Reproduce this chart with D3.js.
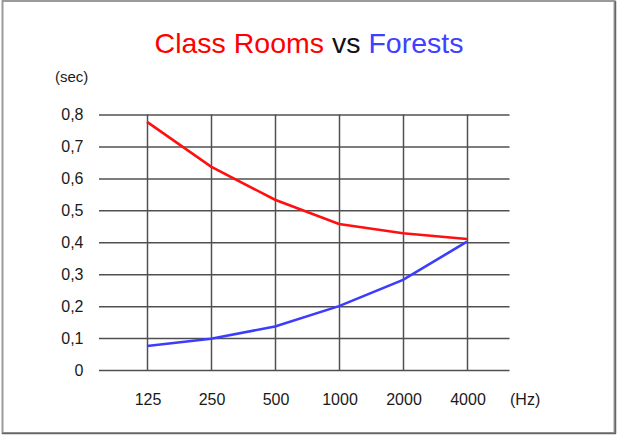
<!DOCTYPE html>
<html>
<head>
<meta charset="utf-8">
<script src="https://cdn.jsdelivr.net/npm/d3@7"></script>
<style>
html,body{margin:0;padding:0;background:#fff;}
svg{display:block;}
text{font-family:"Liberation Sans",Arial,sans-serif;}
</style>
</head>
<body>
<svg id="chart" width="617" height="435"></svg>
<script>
const categories = ["125","250","500","1000","2000","4000"];
const classRooms = [0.777,0.637,0.533,0.457,0.428,0.41];
const forests = [0.075,0.098,0.136,0.2,0.282,0.402];
const yTicks = [0,0.1,0.2,0.3,0.4,0.5,0.6,0.7,0.8];

const svg = d3.select("#chart");

// frame
svg.append("rect").attr("x",2.5).attr("y",1).attr("width",612).attr("height",432)
  .attr("fill","#fff").attr("stroke","#9a9a9a").attr("stroke-width",2);
svg.append("line").attr("x1",2).attr("x2",616).attr("y1",433.5).attr("y2",433.5).attr("stroke","#666").attr("stroke-width",1.5);
svg.append("line").attr("x1",615.5).attr("x2",615.5).attr("y1",1).attr("y2",434).attr("stroke","#666").attr("stroke-width",1.5);

const x = d3.scalePoint().domain(categories).range([147,467]);
const y = d3.scaleLinear().domain([0,0.8]).range([370,114.5]);
const gridLeft = 99, gridRight = 509.5;

// horizontal grid
const yAxis = d3.axisLeft(y).tickValues(yTicks).tickSize(gridLeft-gridRight).tickFormat("");
const gy = svg.append("g").attr("transform",`translate(${gridLeft},0)`).call(yAxis);
gy.select(".domain").remove();
gy.selectAll(".tick line").attr("stroke","#505050").attr("stroke-width",1.5);

// vertical grid
const xAxis = d3.axisBottom(x).tickSize(-(370-114.5)).tickFormat("");
const gx = svg.append("g").attr("transform","translate(0,370)").call(xAxis);
gx.select(".domain").remove();
gx.selectAll(".tick line").attr("stroke","#505050").attr("stroke-width",1.5);

// y labels
svg.selectAll(".ylab").data(yTicks).enter().append("text")
  .attr("class","ylab").attr("x",83.5).attr("y",d=>y(d)+5.5)
  .attr("text-anchor","end").attr("font-size",16).attr("fill","#1a1a1a")
  .text(d=> d===0 ? "0" : d3.format(".1f")(d).replace(".",","));

// x labels
svg.selectAll(".xlab").data(categories).enter().append("text")
  .attr("class","xlab").attr("x",d=>x(d)+1).attr("y",405)
  .attr("text-anchor","middle").attr("font-size",16).attr("fill","#1a1a1a")
  .text(d=>d);

svg.append("text").attr("x",510).attr("y",405).attr("font-size",16).attr("fill","#1a1a1a").text("(Hz)");
svg.append("text").attr("x",55).attr("y",82).attr("font-size",15).attr("fill","#1a1a1a").text("(sec)");

// lines
const line = d3.line().x((d,i)=>x(categories[i])).y(d=>y(d));
svg.append("path").datum(classRooms).attr("d",line).attr("fill","none")
  .attr("stroke","#ff1010").attr("stroke-width",2.6);
svg.append("path").datum(forests).attr("d",line).attr("fill","none")
  .attr("stroke","#3c3cff").attr("stroke-width",2.6);

// title
const title = svg.append("text").attr("x",309).attr("y",53).attr("text-anchor","middle").attr("font-size",28.5);
title.append("tspan").attr("fill","#ff0000").text("Class Rooms");
title.append("tspan").attr("fill","#111").text(" vs ");
title.append("tspan").attr("fill","#4040ff").text("Forests");
</script>
</body>
</html>
